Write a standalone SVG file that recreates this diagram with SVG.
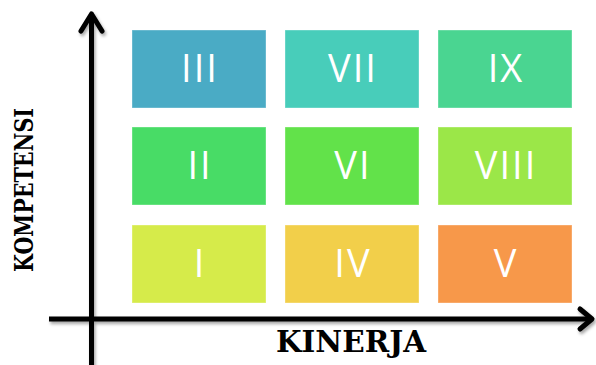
<svg xmlns="http://www.w3.org/2000/svg" width="596" height="365" viewBox="0 0 596 365">
  <defs>
    <style>
      .box { stroke: #ffffff; stroke-opacity: 0.35; stroke-width: 1; }
      .lbl { font-family: "Open Sans", "Liberation Sans", sans-serif; font-size: 38px; fill: #ffffff; text-anchor: middle; letter-spacing: 2px; }
      .axis { fill: none; stroke: #000000; stroke-width: 5; stroke-linecap: butt; stroke-linejoin: round; }
      .head { fill: none; stroke: #000000; stroke-width: 5; stroke-linecap: round; stroke-linejoin: round; }
      .title { font-family: "DejaVu Serif", "Liberation Serif", serif; font-weight: bold; fill: #000000; }
    </style>
    <filter id="shadow" x="-10%" y="-10%" width="120%" height="120%">
      <feDropShadow dx="1.5" dy="2.5" stdDeviation="1.8" flood-color="#000000" flood-opacity="0.35"/>
    </filter>
  </defs>
  <rect x="0" y="0" width="596" height="365" fill="#ffffff"/>

  <g id="node-III"><rect class="box" x="132" y="30" width="134" height="78" fill="#4AABC5"/><text class="lbl" x="200" y="82">III</text></g>
  <g id="node-VII"><rect class="box" x="285" y="30" width="134" height="78" fill="#48CDBA"/><text class="lbl" x="353" y="82">VII</text></g>
  <g id="node-IX"><rect class="box" x="438" y="30" width="134" height="78" fill="#4AD591"/><text class="lbl" x="506" y="82">IX</text></g>

  <g id="node-II"><rect class="box" x="132" y="127" width="134" height="78" fill="#48DC66"/><text class="lbl" x="200" y="179">II</text></g>
  <g id="node-VI"><rect class="box" x="285" y="127" width="134" height="78" fill="#62E24A"/><text class="lbl" x="353" y="179">VI</text></g>
  <g id="node-VIII"><rect class="box" x="438" y="127" width="134" height="78" fill="#9BE748"/><text class="lbl" x="506" y="179">VIII</text></g>

  <g id="node-I"><rect class="box" x="132" y="225" width="134" height="78" fill="#D6EB4A"/><text class="lbl" x="200" y="277">I</text></g>
  <g id="node-IV"><rect class="box" x="285" y="225" width="134" height="78" fill="#F2CF4A"/><text class="lbl" x="353" y="277">IV</text></g>
  <g id="node-V"><rect class="box" x="438" y="225" width="134" height="78" fill="#F7984A"/><text class="lbl" x="506" y="277">V</text></g>

  <g id="connectors" filter="url(#shadow)">
    <line class="axis" x1="91.5" y1="15" x2="91.5" y2="368"/>
    <polyline class="head" points="81,31 91.5,14 102,31"/>
    <line class="axis" x1="49" y1="319" x2="591" y2="319"/>
    <polyline class="head" points="580,309 592,319 580,329"/>
  </g>

  <g id="axis-labels">
    <text class="title" x="0" y="0" font-size="26" textLength="164" lengthAdjust="spacingAndGlyphs" transform="translate(33,272) rotate(-90)">KOMPETENSI</text>
    <text class="title" x="276" y="352" font-size="29" textLength="150" lengthAdjust="spacingAndGlyphs">KINERJA</text>
  </g>
</svg>
